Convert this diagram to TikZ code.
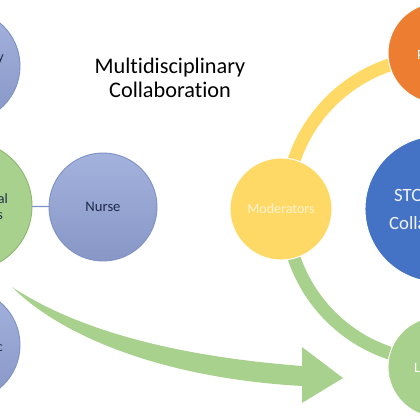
\documentclass[tikz,border=0pt]{standalone}
\usepackage{fontspec}
\setmainfont{Carlito}[Ligatures=NoCommon]
\definecolor{greyblue}{HTML}{93A4D7}
\definecolor{greyblueline}{HTML}{7E91C5}
\definecolor{leafgreen}{HTML}{A9D18E}
\definecolor{leafline}{HTML}{8DB870}
\definecolor{sunyellow}{HTML}{FFD966}
\definecolor{deeporange}{HTML}{ED7D31}
\definecolor{royalblue}{HTML}{4472C4}
\definecolor{navytext}{HTML}{1F2A48}
\definecolor{paletext}{HTML}{FFF3D0}

\begin{document}
\begin{tikzpicture}[x=0.03cm,y=0.03cm,
  disc/.style={circle,inner sep=0pt,outer sep=0pt,minimum size=#1},
  staff/.style={disc=#1,top color=greyblue!85!white,bottom color=greyblue!92!black,draw=greyblueline,line width=0.8pt},
  clinic/.style={disc=#1,fill=leafgreen,draw=leafline,line width=0.8pt},
  hubdisc/.style={disc=#1,draw=white,line width=0.8pt},
  ring/.style={line width=0.39cm},
  cut/.style={font=\fontsize{12}{14}\selectfont},
  link/.style={draw=greyblueline,line width=1pt}]
\useasboundingbox (0,0) rectangle (420,420);
\clip (0,0) rectangle (420,420);
\coordinate (hub) at (438,211);
\draw[ring,sunyellow] ([shift={(100:4.56cm)}]hub) arc[start angle=100,end angle=170,radius=4.56cm];
\draw[ring,leafgreen] ([shift={(190:4.56cm)}]hub) arc[start angle=190,end angle=260,radius=4.56cm];
\fill[leafgreen] (12,133) .. controls (70,95) and (160,65) .. (302,54) -- (302,73) -- (343,42)
  -- (302,17) -- (302,34) .. controls (160,42) and (60,85) .. (12,133) -- cycle;
\node[staff=3.36cm] (pharm) at (-36,354) {};
\node[clinic=3.9cm] (medic) at (-33,214) {};
\node[staff=3.24cm,font=\fontsize{12.5}{15}\selectfont,text=navytext] (nurse) at (103,213) {Nurse};
\node[staff=3.36cm] (social) at (-36,75) {};
\draw[link] (medic) -- (nurse);
\node[hubdisc=3.06cm,fill=sunyellow,text=paletext,cut] (moder) at (281,211) {Moderators};
\node[hubdisc=3.0cm,fill=deeporange] (patient) at (438,367) {};
\node[hubdisc=4.38cm,fill=royalblue] (stop) at (hub) {};
\node[hubdisc=3.0cm,fill=leafgreen] (learn) at (438,53) {};
\node[anchor=base east,cut,text=navytext,inner sep=0pt] (pharmtxt) at (4,358) {y};
\node[anchor=base east,cut,text=navytext,inner sep=0pt] (medictxt) at (8,216) {al};
\node[anchor=base east,cut,text=navytext,inner sep=0pt] (medictxtb) at (3,200) {s};
\node[anchor=base east,cut,text=navytext,inner sep=0pt] (socialtxt) at (3,68) {c};
\node[anchor=west,cut,text=white,inner sep=0pt] (patienttxt) at (417,365) {P};
\node[anchor=west,text=white!92!royalblue,inner sep=0pt,font=\fontsize{16}{19}\selectfont] (stoptxt) at (394,225) {STO};
\node[anchor=west,text=white!92!royalblue,inner sep=0pt,font=\fontsize{16}{19}\selectfont] (stoptxtb) at (389,197) {Colla};
\node[anchor=west,cut,text=white,inner sep=0pt] (learntxt) at (414,52) {L};
\node[align=center,font=\fontsize{19}{21}\selectfont] (title) at (170,342) {Multidisciplinary\\Collaboration};
\end{tikzpicture}
\end{document}
